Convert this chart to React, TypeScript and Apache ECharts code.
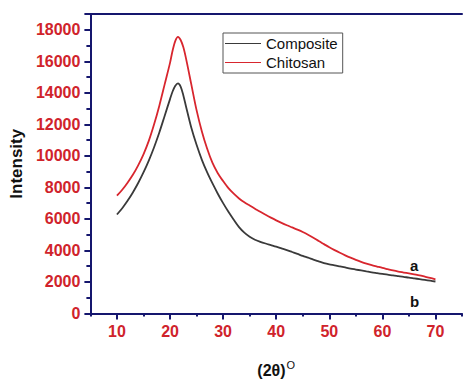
import React, { useEffect, useRef } from "react";
import * as echarts from "echarts";

const twoTheta = [10, 11, 12, 13, 14, 15, 16, 17, 18, 19, 20, 20.5, 21, 21.5, 22, 22.5, 23, 24, 25, 26, 27, 28, 29, 30, 31, 32, 33, 34, 35, 36, 37, 38, 39, 40, 41, 42, 43, 44, 45, 46, 47, 48, 49, 50, 51, 52, 53, 54, 55, 56, 57, 58, 59, 60, 61, 62, 63, 64, 65, 66, 67, 68, 69, 70];

const chitosan = [7475, 7850, 8300, 8800, 9400, 10100, 10950, 12000, 13200, 14550, 15900, 16700, 17300, 17550, 17350, 16900, 16200, 14550, 12900, 11550, 10450, 9550, 8900, 8400, 7950, 7600, 7300, 7050, 6850, 6650, 6450, 6260, 6080, 5910, 5750, 5600, 5460, 5320, 5170, 5000, 4810, 4600, 4400, 4200, 4020, 3850, 3690, 3540, 3400, 3280, 3170, 3070, 2980, 2890, 2810, 2730, 2660, 2600, 2540, 2480, 2420, 2340, 2260, 2170];

const composite = [6280, 6680, 7150, 7680, 8280, 8950, 9700, 10550, 11500, 12550, 13600, 14100, 14450, 14600, 14400, 13850, 13150, 11800, 10700, 9750, 8950, 8250, 7600, 7000, 6450, 5950, 5480, 5130, 4870, 4680, 4550, 4440, 4340, 4240, 4130, 4020, 3900, 3780, 3650, 3540, 3420, 3310, 3200, 3120, 3060, 2990, 2920, 2850, 2790, 2730, 2670, 2610, 2560, 2510, 2460, 2420, 2370, 2320, 2280, 2230, 2180, 2130, 2080, 2030];

const xMajorTicks = [10, 20, 30, 40, 50, 60, 70];
const seriesNames = ["Composite", "Chitosan"];
const curveLabels = ["a", "b"];

const FONT = 'Arial, "Liberation Sans", sans-serif';
const NAVY = "#15166e";
const RED = "#d0232b";

export default function App() {
  const ref = useRef<HTMLDivElement>(null);
  useEffect(() => {
    if (!ref.current) return;
    const chart = echarts.init(ref.current, undefined, { renderer: "svg" });
    const pair = (ys: number[]) => twoTheta.map((x, i) => [x, ys[i]]);
    chart.setOption({
      animation: false,
      backgroundColor: "#ffffff",
      grid: { left: 89, right: 0, top: 14, bottom: 65, containLabel: false },
      legend: {
        orient: "vertical",
        left: 223,
        top: 33,
        data: seriesNames.map((n) => ({ name: n, icon: "rect" })),
        itemWidth: 36,
        itemHeight: 1,
        itemGap: 4,
        padding: [3, 5, 3, 2],
        borderColor: "#555",
        borderWidth: 1,
        textStyle: { fontFamily: FONT, fontSize: 15, color: "#111" },
      },
      xAxis: [
        {
          type: "value",
          min: 5,
          max: 75,
          interval: 5,
          position: "bottom",
          splitLine: { show: false },
          axisLine: { onZero: false, lineStyle: { color: NAVY, width: 2 } },
          axisTick: { length: 3, lineStyle: { color: NAVY, width: 2 } },
          axisLabel: {
            fontFamily: FONT,
            fontSize: 16,
            fontWeight: "bold",
            color: RED,
            margin: 10,
            formatter: (v: number) => (xMajorTicks.includes(v) ? String(v) : ""),
          },
          name: "{a|(2θ)}{b|O}",
          nameLocation: "middle",
          nameGap: 46,
          nameTextStyle: {
            rich: {
              a: { fontFamily: FONT, fontSize: 16, fontWeight: "bold", color: "#111" },
              b: { fontFamily: FONT, fontSize: 11, color: "#111", verticalAlign: "bottom", padding: [0, 0, 10, 1] },
            },
          },
        },
        {
          type: "value",
          min: 5,
          max: 75,
          position: "bottom",
          splitLine: { show: false },
          axisLine: { show: false },
          axisTick: { show: true, length: 6, customValues: xMajorTicks, lineStyle: { color: NAVY, width: 2 } },
          axisLabel: { show: false },
        },
        {
          type: "value",
          min: 5,
          max: 75,
          position: "top",
          splitLine: { show: false },
          axisLine: { show: true, lineStyle: { color: NAVY, width: 2 } },
          axisTick: { show: false },
          axisLabel: { show: false },
        },
      ],
      yAxis: {
        type: "value",
        min: 0,
        max: 19000,
        interval: 2000,
        splitLine: { show: false },
        axisLine: { show: true, lineStyle: { color: NAVY, width: 2 } },
        axisTick: { show: true, length: 6, lineStyle: { color: NAVY, width: 2 } },
        minorTick: { show: true, splitNumber: 2, length: 4, lineStyle: { color: NAVY, width: 2 } },
        axisLabel: {
          fontFamily: FONT,
          fontSize: 16,
          fontWeight: "bold",
          color: RED,
          margin: 10,
          formatter: (v: number) => (v <= 18000 ? String(v) : ""),
        },
        name: "Intensity",
        nameLocation: "middle",
        nameGap: 62,
        nameTextStyle: { fontFamily: FONT, fontSize: 17, fontWeight: "bold", color: "#111" },
      },
      series: [
        {
          name: seriesNames[0],
          type: "line",
          data: pair(composite),
          smooth: 0.3,
          showSymbol: false,
          symbol: "none",
          lineStyle: { color: "#3a3a3a", width: 1.8 },
          itemStyle: { color: "#3a3a3a" },
          z: 3,
        },
        {
          name: seriesNames[1],
          type: "line",
          data: pair(chitosan),
          smooth: 0.3,
          showSymbol: false,
          symbol: "none",
          lineStyle: { color: "#d8262e", width: 1.8 },
          itemStyle: { color: "#d8262e" },
          z: 2,
        },
      ],
      graphic: [
        {
          type: "text",
          left: 410,
          top: 258,
          style: { text: curveLabels[0], font: `bold 15px ${FONT}`, fill: "#111" },
        },
        {
          type: "text",
          left: 410,
          top: 294,
          style: { text: curveLabels[1], font: `bold 15px ${FONT}`, fill: "#111" },
        },
      ],
    });
    return () => chart.dispose();
  }, []);
  return <div ref={ref} style={{ position: "fixed", left: 0, top: 0, width: 465, height: 383 }} />;
}
